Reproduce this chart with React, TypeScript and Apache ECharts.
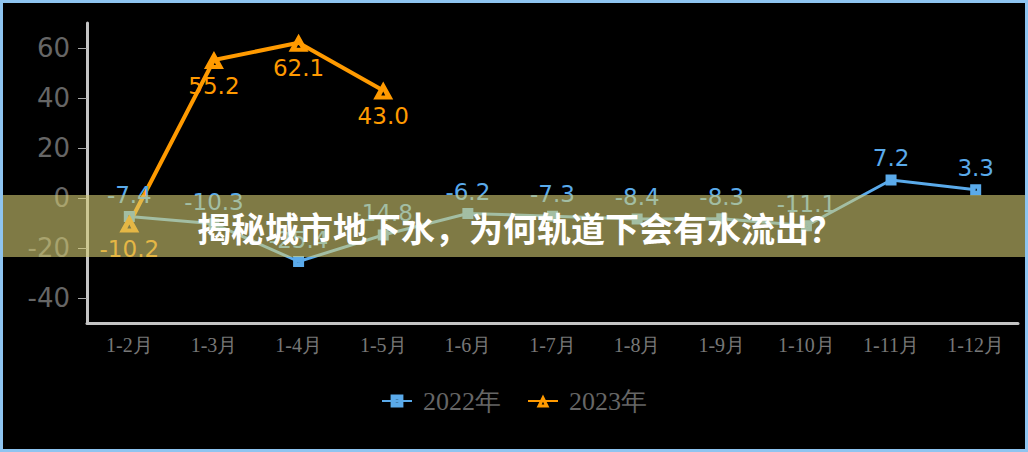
import { useEffect, useRef } from 'react'
import * as echarts from 'echarts'

const months = ['1-2月', '1-3月', '1-4月', '1-5月', '1-6月', '1-7月', '1-8月', '1-9月', '1-10月', '1-11月', '1-12月']
const values2022 = [-7.4, -10.3, -25.4, -14.8, -6.2, -7.3, -8.4, -8.3, -11.1, 7.2, 3.3]
const values2023: (number | string)[] = [-10.2, 55.2, 62.1, 43.0, '-', '-', '-', '-', '-', '-', '-']
const yTicks = [-40, -20, 0, 20, 40, 60]
const bannerText = '揭秘城市地下水，为何轨道下会有水流出？'

// filled marks with a small hole in the middle
const rectMark = 'path://M0,0H10V10H0Z M4,4V6H6V4Z'
const triMark = 'path://M5,0L10,9H0Z M5,5L4,7H6Z'

export default function App() {
  const chartRef = useRef<HTMLDivElement>(null)

  useEffect(() => {
    document.body.style.margin = '0'
    if (!chartRef.current) return
    const chart = echarts.init(chartRef.current, null, { renderer: 'svg' })

    const option: any = {
      animation: false,
      backgroundColor: '#000',
      grid: { left: 87, right: 10, top: 23, bottom: 129 },
      legend: {
        top: 383,
        left: 'center',
        itemWidth: 30,
        itemHeight: 16,
        itemGap: 26,
        textStyle: { color: '#666', fontSize: 26, fontFamily: 'serif', padding: [0, 0, 0, 6] },
        data: ['2022年', '2023年']
      },
      xAxis: {
        type: 'category',
        data: months,
        axisLine: { onZero: false, lineStyle: { color: '#c4c4c4', width: 3 } },
        axisTick: { show: false },
        axisLabel: { color: '#777', fontSize: 20, fontFamily: 'serif', margin: 12, interval: 0 }
      },
      yAxis: {
        type: 'value',
        min: -50,
        max: 70,
        axisLine: { show: true, lineStyle: { color: '#c4c4c4', width: 3 } },
        axisTick: { show: true, length: 9, customValues: yTicks, lineStyle: { color: '#aaa', width: 1 } },
        axisLabel: { color: '#666', fontSize: 26, fontFamily: 'DejaVu Sans', margin: 17, customValues: yTicks },
        splitLine: { show: false }
      },
      series: [
        {
          name: '2022年',
          type: 'line',
          data: values2022,
          symbol: rectMark,
          symbolSize: 11,
          lineStyle: { color: '#5aaaea', width: 3 },
          itemStyle: { color: '#5aaaea' },
          label: {
            show: true,
            position: 'top',
            color: '#5aaaea',
            fontSize: 23,
            fontFamily: 'DejaVu Sans',
            formatter: (p: any) => Number(p.value).toFixed(1)
          }
        },
        {
          name: '2023年',
          type: 'line',
          data: values2023,
          symbol: triMark,
          symbolSize: [20, 18],
          lineStyle: { color: '#ff9a00', width: 4 },
          itemStyle: { color: '#ff9a00' },
          label: {
            show: true,
            position: 'bottom',
            color: '#ff9a00',
            fontSize: 23,
            fontFamily: 'DejaVu Sans',
            formatter: (p: any) => Number(p.value).toFixed(1)
          }
        }
      ],
      graphic: [
        {
          type: 'rect',
          z: 100,
          shape: { x: 3, y: 195, width: 1022, height: 62 },
          style: { fill: 'rgba(212, 203, 115, 0.6)' }
        },
        {
          type: 'text',
          z: 101,
          x: 520,
          y: 227,
          style: {
            text: bannerText,
            fill: '#fff',
            font: 'bold 34px "Noto Sans CJK SC"',
            align: 'center',
            verticalAlign: 'middle'
          }
        },
        {
          type: 'rect',
          z: 102,
          shape: { x: 1.5, y: 1.5, width: 1025, height: 449 },
          style: { fill: 'none', stroke: '#8ec4f0', lineWidth: 3 }
        }
      ]
    }

    chart.setOption(option)
    return () => {
      chart.dispose()
    }
  }, [])

  return <div ref={chartRef} style={{ width: 1028, height: 452 }} />
}
